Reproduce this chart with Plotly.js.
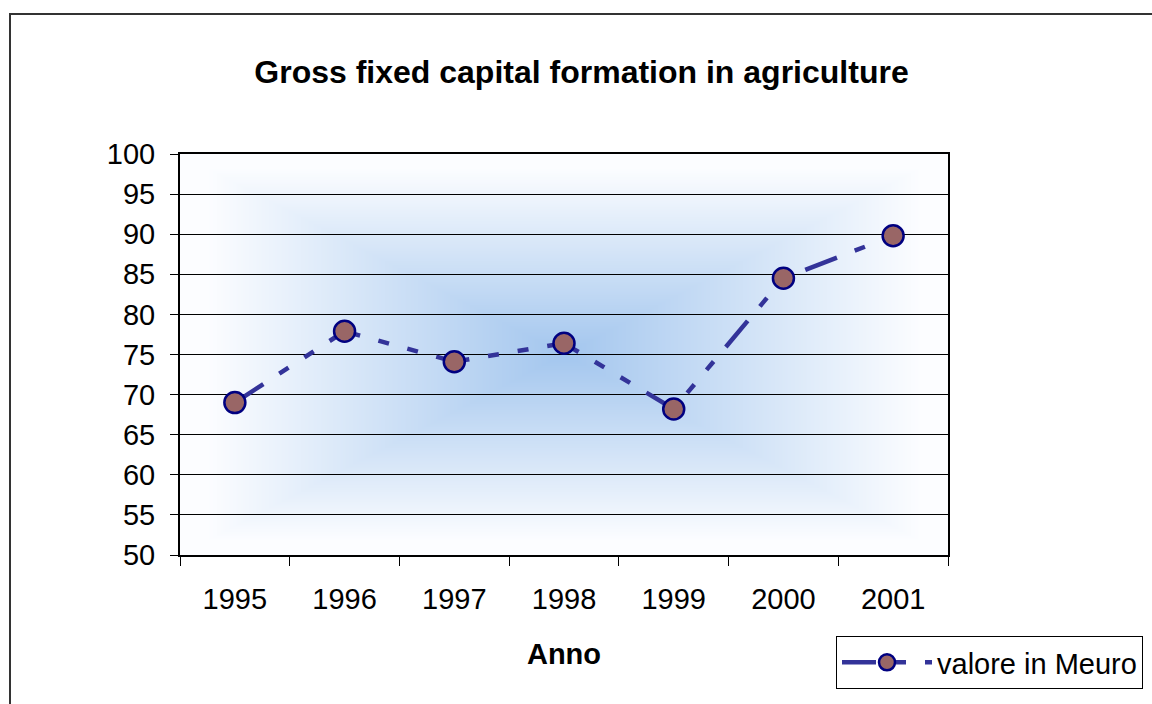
<!DOCTYPE html>
<html>
<head>
<meta charset="utf-8">
<script src="https://cdn.plot.ly/plotly-3.0.1.min.js"></script>
<style>
  html, body { margin: 0; padding: 0; background: #ffffff; }
  #chart { width: 1152px; height: 704px; }
</style>
</head>
<body>
<div id="chart"></div>
<script>
// ---- data ----
const years = ["1995", "1996", "1997", "1998", "1999", "2000", "2001"];
const values = [69.0, 77.9, 74.1, 76.4, 68.2, 84.5, 89.8];
const seriesName = "valore in Meuro";
const chartTitle = "Gross fixed capital formation in agriculture";
const xTitle = "Anno";
const yTicks = [50, 55, 60, 65, 70, 75, 80, 85, 90, 95, 100];

// ---- rectangular "from centre" gradient for plot background ----
function makeGradient(w, h) {
  const c = document.createElement('canvas');
  c.width = w; c.height = h;
  const ctx = c.getContext('2d');
  const img = ctx.createImageData(w, h);
  const center = [163, 198, 238];
  const edge = [252, 253, 255];
  const hw = w / 2, hh = h / 2;
  for (let y = 0; y < h; y++) {
    for (let x = 0; x < w; x++) {
      const t = Math.min(1, Math.max(Math.abs(x + 0.5 - hw) / hw, Math.abs(y + 0.5 - hh) / hh) / 0.93);
      const i = (y * w + x) * 4;
      for (let k = 0; k < 3; k++) img.data[i + k] = Math.round(center[k] + (edge[k] - center[k]) * t);
      img.data[i + 3] = 255;
    }
  }
  ctx.putImageData(img, 0, 0);
  return c.toDataURL('image/png');
}

const L = 180, R = 948, T = 154, B = 555, W = 1152, H = 704;
const pw = R - L, ph = B - T;
const px2x = p => (p - L) / pw;
const py2y = p => (B - p) / ph;

const font = "Liberation Sans, Arial, Helvetica, sans-serif";

const trace = {
  type: 'scatter',
  mode: 'lines+markers',
  x: years,
  y: values,
  name: seriesName,
  line: { color: '#333399', width: 4.5, dash: '34px,19px,11px,19px,11px,19px' },
  marker: { size: 21, color: '#996666', line: { color: '#000080', width: 2.5 } },
  cliponaxis: false
};

const layout = {
  width: W, height: H,
  margin: { l: L, r: W - R, t: T, b: H - B, autoexpand: false },
  paper_bgcolor: '#ffffff',
  plot_bgcolor: 'rgba(0,0,0,0)',
  font: { family: font, color: '#000000', size: 29 },
  title: {
    text: '<b>' + chartTitle + '</b>',
    font: { family: font, size: 32, color: '#000000' },
    xref: 'paper', x: px2x(581.5), xanchor: 'center',
    yref: 'container', y: 1 - 72 / H, yanchor: 'middle'
  },
  xaxis: {
    type: 'category',
    range: [-0.5, 6.5],
    tickson: 'boundaries',
    ticks: 'outside', ticklen: 9, tickwidth: 1, tickcolor: '#000000',
    showgrid: false,
    showline: true, linecolor: '#000000', linewidth: 2, mirror: true,
    tickfont: { family: font, size: 29, color: '#000000' },
    ticklabelstandoff: 17,
    title: { text: '<b>' + xTitle + '</b>', font: { family: font, size: 29, color: '#000000' }, standoff: 30 },
    fixedrange: true
  },
  yaxis: {
    range: [50, 100],
    tickvals: yTicks,
    ticktext: yTicks.map(String),
    ticks: 'outside', ticklen: 8, tickwidth: 1, tickcolor: '#000000',
    showgrid: true, gridcolor: '#000000', gridwidth: 1,
    zeroline: false,
    showline: true, linecolor: '#000000', linewidth: 2, mirror: true,
    tickfont: { family: font, size: 29, color: '#000000' },
    ticklabelstandoff: 9,
    fixedrange: true
  },
  showlegend: true,
  legend: {
    x: px2x(836), xanchor: 'left',
    y: py2y(636), yanchor: 'top',
    bgcolor: '#ffffff', bordercolor: '#000000', borderwidth: 1,
    font: { family: font, size: 29, color: '#000000' },
    itemwidth: 90
  },
  images: [{
    source: makeGradient(pw, ph),
    xref: 'paper', yref: 'paper', x: 0, y: 1, sizex: 1, sizey: 1,
    sizing: 'stretch', xanchor: 'left', yanchor: 'top', layer: 'below'
  }],
  shapes: [{
    type: 'rect', xref: 'paper', yref: 'paper',
    x0: px2x(10), x1: px2x(1170), y0: py2y(720), y1: py2y(14),
    line: { color: '#333333', width: 2 }, fillcolor: 'rgba(0,0,0,0)', layer: 'below'
  }]
};

Plotly.newPlot('chart', [trace], layout, { displayModeBar: false, staticPlot: true });
</script>
</body>
</html>
